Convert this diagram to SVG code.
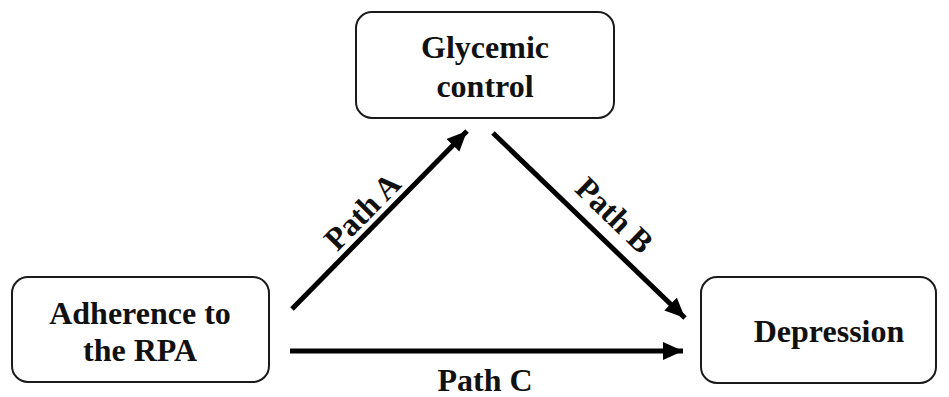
<svg xmlns="http://www.w3.org/2000/svg" width="949" height="397" viewBox="0 0 949 397">
<style>
.box{fill:#fff;stroke:#1a1a1a;stroke-width:2}
.t{font-weight:bold;font-size:32px;fill:#111;text-anchor:middle}
.c{stroke:#000;stroke-width:5;fill:none}
</style>
<defs>
<marker id="ah" markerUnits="userSpaceOnUse" markerWidth="22" markerHeight="20" refX="20" refY="9" orient="auto">
<path d="M0,0 L20,9 L0,18 Z" fill="#000"/>
</marker>
</defs>
<rect width="949" height="397" fill="#fff"/>
<g font-family="Liberation Serif, DejaVu Serif, serif">
<g id="connectors">
<line class="c" x1="292" y1="309" x2="467" y2="131" marker-end="url(#ah)"/>
<line class="c" x1="493" y1="133" x2="685" y2="318" marker-end="url(#ah)"/>
<line class="c" x1="290" y1="351" x2="683" y2="351" marker-end="url(#ah)"/>
<text class="t" x="370" y="219" font-size="30" transform="rotate(-45.5 370 219)">Path A</text>
<text class="t" x="607" y="223" font-size="30" transform="rotate(44 607 223)">Path B</text>
<text class="t" x="485" y="391">Path C</text>
</g>
<g id="glycemic">
<rect class="box" x="356" y="12" width="258" height="106" rx="16"/>
<text class="t" x="485" y="58">Glycemic</text>
<text class="t" x="485" y="97">control</text>
</g>
<g id="adherence">
<rect class="box" x="12" y="277" width="257" height="105" rx="16"/>
<text class="t" x="140" y="324">Adherence to</text>
<text class="t" x="140" y="361">the RPA</text>
</g>
<g id="depression">
<rect class="box" x="701" y="277" width="235" height="106" rx="16"/>
<text class="t" x="829" y="342">Depression</text>
</g>
</g>
</svg>
